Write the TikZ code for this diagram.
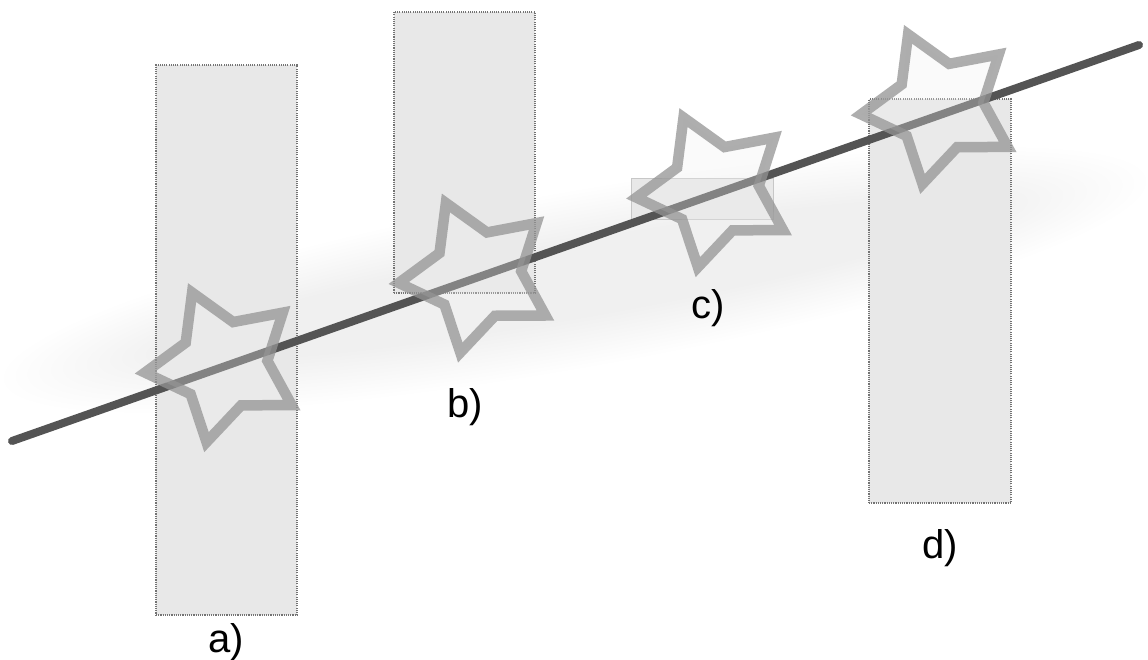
\documentclass[tikz,border=0pt]{standalone}
\usepackage{fontspec}
\setmainfont{Liberation Sans}
\begin{document}
\begin{tikzpicture}[x=1pt,y=-1pt,
  box/.style={draw=black!55, line width=1.1pt, dash pattern=on 1.1pt off 1.1pt, fill=black!9, inner sep=0pt},
  flatbox/.style={draw=black!22, line width=0.8pt, fill=black!9, inner sep=0pt},
  starst/.style={draw=black!42, draw opacity=0.75, line width=10.5pt, line join=miter, miter limit=10, fill=black!6, fill opacity=0.3},
  rod/.style={draw=black!67, line width=8pt, line cap=round},
  lab/.style={font=\fontsize{40}{48}\selectfont, inner sep=0pt, anchor=base}]
\fill[white] (0,0) rectangle (1148,659);
\useasboundingbox (0,0) rectangle (1148,659);
% soft shadow
\foreach \i in {0,...,14}{
  \fill[black, fill opacity=0.0045, rotate around={10:(575,280)}] (575,280) ellipse ({580-12*\i} and {88-3.5*\i});
}
% boxes
\node[box, minimum width=141pt, minimum height=550pt] (ra) at (226.5,340) {};
\node[box, minimum width=141pt, minimum height=281pt] (rb) at (464.5,152.5) {};
\node[flatbox, minimum width=142pt, minimum height=41pt] (rc) at (702,198.5) {};
\node[box, minimum width=142pt, minimum height=404pt] (rd) at (940,301) {};
% rod
\coordinate (L1) at (12,441);
\coordinate (L2) at (1139,45);
\draw[rod] (L1) -- (L2);
% stars
\foreach \n/\cx/\cy in {sa/223.6/365, sb/477.4/275.4, sc/715/190, sd/939.6/106.8}{
  \coordinate (\n) at (\cx,\cy);
  \draw[starst] plot[samples at={0,...,9}] ({\cx + (mod(\x,2)==0 ? 79 : 44)*cos(246.5+36*\x)}, {\cy + (mod(\x,2)==0 ? 79 : 44)*sin(246.5+36*\x)}) -- cycle;
}
% labels
\node[lab] (la) at (226,652) {a)};
\node[lab] (lb) at (465,417) {b)};
\node[lab] (lc) at (708,318) {c)};
\node[lab] (ld) at (940,558) {d)};
\end{tikzpicture}
\end{document}
